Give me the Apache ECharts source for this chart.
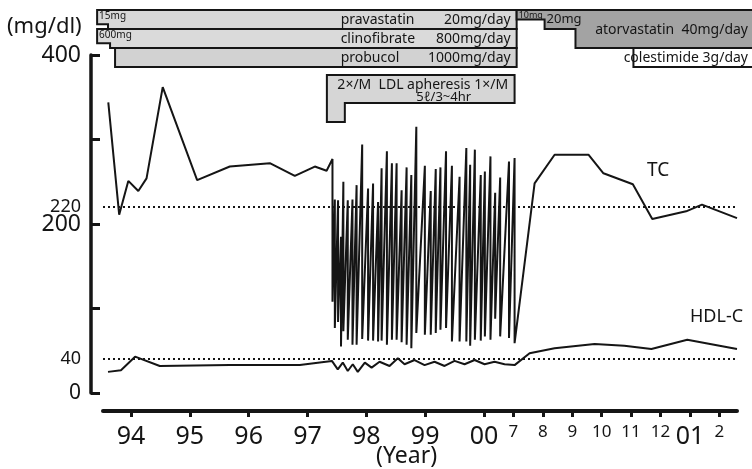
<!DOCTYPE html>
<html><head><meta charset="utf-8">
<script src="https://cdn.jsdelivr.net/npm/echarts@6/dist/echarts.min.js"></script>
<style>html,body{margin:0;padding:0;background:#fff}#c{width:752px;height:469px}</style>
</head><body><div id="c"></div>
<script>
// ---------- DATA ----------
// x positions are in the chart's own display units: 1994 = 0, one year = 2 units until 2000,
// then one month = 1 unit (00 = 12, 7 = 13, ..., 01 = 19, 2 = 20)
const xTickValues = [0, 2, 4, 6, 8, 10, 12, 13, 14, 15, 16, 17, 18, 19, 20];
const xTickLabels = ['94', '95', '96', '97', '98', '99', '00', '7', '8', '9', '10', '11', '12', '01', '2'];
const xTickIsYear = [1, 1, 1, 1, 1, 1, 1, 0, 0, 0, 0, 0, 0, 1, 0];
const yTickValues = [0, 100, 200, 300, 400];
const yLabelValues = [0, 40, 200, 220, 400];
const refLines = [220, 40];

const tcX = [-0.77, -0.40, -0.09, 0.25, 0.53, 1.08, 2.25, 3.36, 4.72, 5.57, 6.25, 6.65,
  6.85, 6.85, 6.93, 6.93, 7.04, 7.04, 7.14, 7.14, 7.22, 7.22, 7.37, 7.37, 7.53, 7.53, 7.67, 7.67,
  7.86, 7.86, 8.06, 8.06, 8.23, 8.23, 8.40, 8.40, 8.52, 8.52, 8.70, 8.70, 8.87, 8.87, 9.03, 9.03,
  9.20, 9.20, 9.37, 9.37, 9.53, 9.53, 9.70, 9.70, 9.99, 9.99, 10.19, 10.19, 10.36, 10.36, 10.52, 10.52,
  10.71, 10.71, 10.91, 10.91, 11.17, 11.17, 11.40, 11.40, 11.53, 11.53, 11.69, 11.69, 11.89, 11.89,
  12.03, 12.03, 12.22, 12.22, 12.38, 12.38, 12.55, 12.55, 12.85, 12.85, 13.04, 13.04,
  13.53, 13.72, 14.40, 15.55, 16.06, 17.06, 17.72, 18.87, 19.41, 20.60];
const tcY = [344, 211, 251, 239, 254, 362, 252, 268, 272, 257, 268, 263,
  277, 108, 229, 77, 228, 84, 185, 55, 250, 73, 228, 63, 229, 57, 246, 57,
  294, 64, 242, 62, 248, 62, 226, 61, 266, 62, 286, 57, 272, 63, 272, 63,
  240, 60, 267, 57, 258, 53, 315, 71, 269, 69, 239, 69, 265, 71, 267, 75,
  286, 77, 269, 61, 256, 61, 290, 61, 270, 56, 288, 63, 258, 62,
  262, 67, 280, 63, 237, 88, 255, 67, 274, 65, 278, 59,
  195, 248, 282, 282, 260, 247, 206, 215, 223, 207];

const hdlX = [-0.78, -0.34, 0.14, 0.98, 3.36, 5.74, 6.83, 7.03, 7.20, 7.37, 7.54, 7.71, 7.95, 8.18,
  8.45, 8.79, 9.07, 9.30, 9.64, 9.98, 10.32, 10.66, 11.00, 11.34, 11.68, 12.02, 12.36, 12.70, 13.04,
  13.55, 14.40, 15.76, 16.77, 17.69, 18.91, 20.60];
const hdlY = [25, 27, 43, 32, 33, 33, 38, 28, 36, 26, 34, 25, 36, 30,
  37, 32, 41, 34, 39, 33, 37, 32, 38, 34, 39, 34, 37, 34, 33,
  47, 53, 58, 56, 52, 63, 52];

// treatment periods (boundaries in the same x units) and doses
const pravastatinBounds = [-1.15, -0.78, 13.11];
const pravastatinDoses = [15, 20];          // mg/day
const clinofibrateBounds = [-1.15, -0.71, 13.11];
const clinofibrateDoses = [600, 800];       // mg/day
const probucolBounds = [-0.54, 13.11];
const probucolDoses = [1000];               // mg/day
const atorvastatinBounds = [13.11, 14.06, 15.11, 21.2];
const atorvastatinDoses = [10, 20, 40];     // mg/day
const colestimideBounds = [17.08, 21.2];
const colestimideDoses = [3];               // g/day
const apheresisBounds = [6.66, 7.27, 13.04];
const apheresisFreq = [2, 1];               // times per month

// ---------- LAYOUT ----------
const FONT = '"Noto Sans", "DejaVu Sans", sans-serif';
const INK = '#151515';
const GL = 103, GR = 15, GT = 55, GB = 76;
const X_MIN = -0.95, X_MAX = 20.6;
const pxPerUnit = (752 - GL - GR) / (X_MAX - X_MIN);
const TOP_L = 97, TOP_R = 0;
const TOP_XMIN = X_MIN - (GL - TOP_L) / pxPerUnit;
const TOP_XMAX = X_MAX + (GR - TOP_R) / pxPerUnit;

const zip = (a, b) => a.map((v, i) => [v, b[i]]);

const boxes = [
  { bounds: pravastatinBounds, h: pravastatinDoses.map(d => d / 20), top: 0, fill: '#d7d7d7',
    small: [{ t: pravastatinDoses[0] + 'mg', size: 10 }], name: 'pravastatin', dose: pravastatinDoses[1] + 'mg/day' },
  { bounds: clinofibrateBounds, h: clinofibrateDoses.map(d => d / 800), top: 1, fill: '#dadada',
    small: [{ t: clinofibrateDoses[0] + 'mg', size: 10 }], name: 'clinofibrate', dose: clinofibrateDoses[1] + 'mg/day' },
  { bounds: probucolBounds, h: probucolDoses.map(d => d / 1000), top: 2, fill: '#d2d2d2',
    small: [], name: 'probucol', dose: probucolDoses[0] + 'mg/day' },
  { bounds: atorvastatinBounds, h: atorvastatinDoses.map(d => 2 * d / 40), top: 0, fill: '#a3a3a3',
    small: [{ t: atorvastatinDoses[0] + 'mg', size: 9 }, { t: atorvastatinDoses[1] + 'mg', size: 13, mid: true }],
    main: 'atorvastatin  ' + atorvastatinDoses[2] + 'mg/day' },
  { bounds: colestimideBounds, h: [1], top: 2, fill: '#ffffff', small: [],
    main: 'colestimide ' + colestimideDoses[0] + 'g/day' },
  { bounds: apheresisBounds, h: apheresisFreq.map(f => f === 2 ? 2.47 : 1.47), top: 3.42, fill: '#d6d6d6',
    small: [], aph: [apheresisFreq[0] + '×/M  LDL apheresis ' + apheresisFreq[1] + '×/M', '5ℓ/3~4hr'] }
];

function txt(x, y, t, size, align, valign) {
  return { type: 'text', x: x, y: y, silent: true,
    style: { text: t, fill: INK, font: size + 'px ' + FONT, align: align, textAlign: align,
      verticalAlign: valign, textVerticalAlign: valign } };
}

function renderBox(params, api) {
  const b = boxes[params.dataIndex];
  const n = b.h.length;
  const pts = [[b.bounds[0], b.top], [b.bounds[n], b.top]];
  for (let i = n - 1; i >= 0; i--) {
    pts.push([b.bounds[i + 1], b.top + b.h[i]]);
    pts.push([b.bounds[i], b.top + b.h[i]]);
  }
  const px = pts.map(p => api.coord(p));
  const children = [{ type: 'polygon', shape: { points: px },
    style: { fill: b.fill, stroke: INK, lineWidth: 2, lineJoin: 'miter' } }];
  const topPx = api.coord([0, b.top])[1];
  const endPx = api.coord([b.bounds[n], 0])[0];
  const rowPx = api.size([0, 1])[1];
  b.small.forEach((s, i) => {
    const sx = api.coord([b.bounds[i], 0])[0] + 2;
    if (s.mid) children.push(txt(sx, topPx + rowPx / 2, s.t, s.size, 'left', 'middle'));
    else children.push(txt(sx, topPx + 1, s.t, s.size, 'left', 'top'));
  });
  if (b.name) {
    const cy = topPx + rowPx / 2 + 1;
    children.push(txt(endPx - 176, cy, b.name, 14, 'left', 'middle'));
    children.push(txt(endPx - 6, cy, b.dose, 14, 'right', 'middle'));
  }
  if (b.main) {
    const botPx = api.coord([0, b.top + b.h[n - 1]])[1];
    children.push(txt(748, (topPx + botPx) / 2 + 1, b.main, 14, 'right', 'middle'));
  }
  if (b.aph) {
    const x0 = api.coord([b.bounds[0], 0])[0];
    const cx = (x0 + endPx) / 2;
    children.push(txt(cx + 2, topPx + 10, b.aph[0], 14, 'center', 'middle'));
    children.push(txt(cx + 23, topPx + 22, b.aph[1], 13, 'center', 'middle'));
  }
  return { type: 'group', children: children };
}

const chart = echarts.init(document.getElementById('c'), null, { renderer: 'canvas' });
chart.setOption({
  animation: false,
  backgroundColor: '#ffffff',
  textStyle: { fontFamily: FONT },
  grid: [
    { left: GL, right: GR, top: GT, bottom: GB, containLabel: false, outerBoundsMode: 'none' },
    { left: TOP_L, right: TOP_R, top: 10, height: 114, containLabel: false, outerBoundsMode: 'none' }
  ],
  xAxis: [
    { type: 'value', gridIndex: 0, min: X_MIN, max: X_MAX, offset: 18, position: 'bottom',
      axisLine: { show: true, onZero: false, lineStyle: { color: INK, width: 4 } },
      axisTick: { show: true, customValues: xTickValues, length: 6, inside: false, lineStyle: { color: INK, width: 3 } },
      axisLabel: { show: true, customValues: xTickValues, margin: 13, color: INK,
        formatter: v => { const i = xTickValues.indexOf(v); return i < 0 ? '' : (xTickIsYear[i] ? '{y|' : '{m|') + xTickLabels[i] + '}'; },
        rich: { y: { fontSize: 25, fontFamily: FONT, color: INK }, m: { fontSize: 17, fontFamily: FONT, color: INK } } },
      splitLine: { show: false } },
    { type: 'value', gridIndex: 1, min: TOP_XMIN, max: TOP_XMAX, show: false }
  ],
  yAxis: [
    { type: 'value', gridIndex: 0, min: 0, max: 400, offset: 12, position: 'left',
      axisLine: { show: true, onZero: false, lineStyle: { color: INK, width: 3.5 } },
      axisTick: { show: true, inside: true, customValues: yTickValues, length: 9, lineStyle: { color: INK, width: 3 } },
      axisLabel: { show: true, customValues: yLabelValues, margin: 10, color: INK,
        formatter: v => (v === 200 || v === 400) ? '{b|' + v + '}' : (v === 0 ? '{z|0}' : '{s|' + v + '}'),
        rich: { b: { fontSize: 23, fontFamily: FONT, color: INK }, z: { fontSize: 21, fontFamily: FONT, color: INK },
          s: { fontSize: 18, fontFamily: FONT, color: INK } } },
      splitLine: { show: false } },
    { type: 'value', gridIndex: 1, min: 0, max: 6, inverse: true, show: false }
  ],
  series: [
    { type: 'line', name: 'TC', xAxisIndex: 0, yAxisIndex: 0, data: zip(tcX, tcY), symbol: 'none',
      lineStyle: { color: INK, width: 2 }, silent: true,
      markLine: { silent: true, symbol: ['none', 'none'], label: { show: false },
        lineStyle: { color: INK, width: 2, type: [2, 3] },
        data: refLines.map(v => ({ yAxis: v })) } },
    { type: 'line', name: 'HDL-C', xAxisIndex: 0, yAxisIndex: 0, data: zip(hdlX, hdlY), symbol: 'none',
      lineStyle: { color: INK, width: 2 }, silent: true },
    { type: 'custom', xAxisIndex: 1, yAxisIndex: 1, renderItem: renderBox, silent: true,
      data: boxes.map(b => [b.bounds[0], b.top]), encode: { x: 0, y: 1 }, clip: false }
  ],
  graphic: [
    { type: 'text', left: 7, top: 16, style: { text: '(mg/dl)', font: '22px ' + FONT, fill: INK } },
    { type: 'text', left: 376, top: 445, style: { text: '(Year)', font: '23px ' + FONT, fill: INK } },
    { type: 'text', left: 647, top: 161, style: { text: 'TC', font: '19px ' + FONT, fill: INK } },
    { type: 'text', left: 690, top: 308, style: { text: 'HDL-C', font: '18px ' + FONT, fill: INK } }
  ]
});
</script></body></html>
